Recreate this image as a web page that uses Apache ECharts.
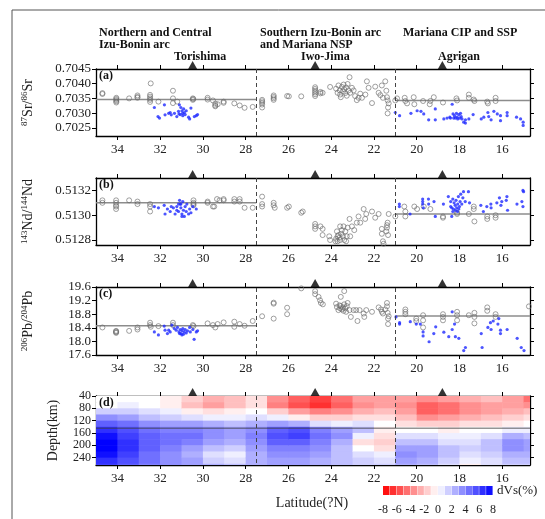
<!DOCTYPE html>
<html>
<head>
<meta charset="utf-8">
<script src="https://cdn.jsdelivr.net/npm/echarts@6.0.0/dist/echarts.min.js"></script>
<style>
  html, body { margin: 0; padding: 0; background: #fff; }
  #chart { width: 545px; height: 519px; }
</style>
</head>
<body>
<div id="chart"></div>
<script>
// ---- data ----
const LAT_MIN = 14.7, LAT_MAX = 35;
const latTicks = [16, 18, 20, 22, 24, 26, 28, 30, 32, 34];
const sectionBounds = [27.5, 21];
const volcanoLat = [30.48, 24.75, 18.8];
const volcanoNames = ['Torishima', 'Iwo-Jima', 'Agrigan'];

// (a) 87Sr/86Sr
const srTicks = [0.7025, 0.7030, 0.7035, 0.7040, 0.7045];
const srRef = [0.70346, 0.70343];
const srOther = [
  [34.7,0.70365],[34.7,0.70368],[34.05,0.70352],[34.05,0.70348],[34.05,0.70344],[34.05,0.70340],[34.05,0.70336],
  [33.45,0.70350],[33.06,0.70360],[33.06,0.70355],[33.06,0.70352],
  [32.47,0.70362],[32.47,0.70356],[32.47,0.70350],[32.47,0.70345],[32.47,0.70338],[32.44,0.70401],[32.08,0.70339],
  [31.4,0.70376],[31.4,0.70350],[31.4,0.70334],[31.2,0.70339],
  [30.47,0.70350],[30.47,0.70345],[30.45,0.70348],[29.78,0.70352],[29.78,0.70346],
  [29.53,0.70343],[29.42,0.70332],[29.42,0.70326],[29.42,0.70323],[29.31,0.70330],[29.03,0.70339],[29.03,0.70335],
  [28.53,0.70333],[28.28,0.70326],[28.05,0.70318],[27.67,0.70321],
  [27.23,0.70345],[27.23,0.70340],[27.23,0.70335],[27.23,0.70329],[27.23,0.70319],
  [26.69,0.70360],[26.69,0.70355],[26.69,0.70350],[26.69,0.70345],[26.06,0.70358],[25.98,0.70357],[25.4,0.70357],
  [24.75,0.70388],[24.75,0.70382],[24.75,0.70376],[24.75,0.70370],[24.75,0.70364],[24.75,0.70358],
  [24.5,0.70372],[24.5,0.70367],[24.4,0.70369],[24.05,0.70389],
  [23.77,0.70383],[23.7,0.70369],[23.66,0.70394],[23.6,0.70377],[23.58,0.70363],[23.55,0.70354],[23.5,0.70389],
  [23.45,0.70374],[23.42,0.70397],[23.39,0.70381],[23.34,0.70368],[23.3,0.70387],[23.27,0.70359],[23.23,0.70399],
  [23.19,0.70377],[23.14,0.70422],[23.11,0.70369],[23.03,0.70386],[22.95,0.70377],[22.88,0.70358],[22.8,0.70344],
  [22.72,0.70352],[22.64,0.70366],[22.56,0.70352],[22.4,0.70363],[22.33,0.70408],[22.25,0.70386],[22.09,0.70334],
  [21.94,0.70390],[21.78,0.70369],[21.7,0.70361],[21.63,0.70394],[21.58,0.70352],[21.47,0.70408],[21.42,0.70376],
  [21.39,0.70354],[21.36,0.70343],[21.34,0.70319],[21.36,0.70299],[21.31,0.70333],
  [21.0,0.70343],[20.92,0.70350],[20.56,0.70352],[20.53,0.70341],[20.45,0.70333],[20.14,0.70354],[20.11,0.70330],
  [19.7,0.70341],[19.36,0.70341],[19.39,0.70330],[19.2,0.70354],[18.77,0.70336],[18.14,0.70350],[18.11,0.70343],
  [17.56,0.70363],[17.56,0.70352],[17.33,0.70346],[17.3,0.70341],[16.7,0.70339],[16.67,0.70333],[16.31,0.70352],[16.31,0.70341]
];
const srBlue = [
  [32.27,0.70319],[32.1,0.70288],[32.03,0.70283],[31.8,0.70328],[31.77,0.70294],[31.6,0.70299],[31.53,0.70302],
  [31.48,0.70294],[31.33,0.70299],[31.22,0.70288],[31.14,0.70306],[31.1,0.70328],[31.03,0.70319],[30.98,0.70308],
  [30.95,0.70299],[30.9,0.70314],[30.87,0.70302],[30.83,0.70295],[30.78,0.70308],[31.06,0.70295],[30.67,0.70286],
  [30.62,0.70280],[30.56,0.70317],[30.4,0.70288],[30.31,0.70291],[30.25,0.70295],[30.94,0.70291],[31.12,0.70297],
  [21.0,0.70302],[20.8,0.70291],[20.27,0.70299],[19.98,0.70308],[19.8,0.70306],[19.67,0.70297],[19.44,0.70277],
  [19.13,0.70314],[19.13,0.70277],[18.73,0.70280],[18.34,0.70330],[18.45,0.70286],[18.3,0.70297],[18.23,0.70291],
  [18.14,0.70299],[18.11,0.70286],[18.03,0.70295],[17.98,0.70283],[17.92,0.70288],[17.88,0.70280],[17.8,0.70269],
  [17.72,0.70277],[18.42,0.70283],[18.27,0.70283],[18.19,0.70283],[18.08,0.70280],[17.95,0.70299],[17.72,0.70266],
  [17.56,0.70280],[17.36,0.70295],[16.98,0.70280],[16.86,0.70286],[16.63,0.70288],[16.52,0.70277],[16.39,0.70306],
  [16.23,0.70297],[16.08,0.70291],[16.08,0.70274],[15.77,0.70302],[15.77,0.70291],[15.33,0.70286],[15.14,0.70280],
  [15.02,0.70269],[15.02,0.70258],[16.67,0.70302],[18.58,0.70283]
];

// (b) 143Nd/144Nd
const ndTicks = [0.5128, 0.5130, 0.5132];
const ndRef = [0.51310, 0.51301];
const ndOther = [
  [34.7,0.51312],[34.7,0.51310],[34.06,0.51312],[34.06,0.51310],[34.06,0.51308],[34.06,0.51307],[34.06,0.51305],
  [33.45,0.51312],[33.06,0.51311],[33.06,0.51309],[32.47,0.51309],[32.47,0.51307],[32.47,0.51303],
  [30.44,0.51312],[30.44,0.51310],[30.44,0.51309],[30.44,0.51308],[29.78,0.51311],[29.78,0.51310],
  [29.53,0.51307],[29.47,0.51307],[29.34,0.51313],[29.22,0.51312],[29.03,0.51313],[29.03,0.51312],
  [28.53,0.51313],[28.53,0.51311],[28.28,0.51313],[28.28,0.51311],[28.05,0.51306],[27.67,0.51306],
  [27.23,0.51315],[27.23,0.51309],[27.23,0.51307],[26.69,0.51310],[26.69,0.51308],[26.64,0.51306],
  [26.06,0.51306],[25.98,0.51307],[25.4,0.51302],[25.33,0.51303],
  [24.75,0.51293],[24.75,0.51291],[24.75,0.51289],[24.5,0.51291],[24.4,0.51289],[24.4,0.51284],[24.09,0.51283],[24.05,0.51280],
  [23.77,0.51281],[23.73,0.51287],[23.7,0.51279],[23.66,0.51284],[23.61,0.51282],[23.58,0.51291],[23.58,0.51280],
  [23.53,0.51285],[23.5,0.51288],[23.45,0.51283],[23.42,0.51291],[23.39,0.51280],[23.34,0.51287],[23.3,0.51279],
  [23.27,0.51283],[23.23,0.51290],[23.14,0.51297],[23.11,0.51283],[23.03,0.51291],[22.92,0.51288],[22.8,0.51294],
  [22.72,0.51299],[22.64,0.51294],[22.48,0.51305],[22.41,0.51297],[22.36,0.51301],[22.09,0.51303],[21.94,0.51298],
  [21.78,0.51301],[21.63,0.51289],[21.63,0.51285],[21.58,0.51279],[21.55,0.51277],[21.42,0.51287],[21.39,0.51292],
  [21.36,0.51294],[21.34,0.51284],[21.31,0.51301],[21.39,0.51290],[23.8,0.51279],[23.7,0.51283],
  [21.0,0.51299],[20.58,0.51307],[20.53,0.51303],[20.53,0.51299],[20.11,0.51307],[19.98,0.51305],[19.67,0.51307],
  [19.36,0.51305],[18.77,0.51299],[18.77,0.51298],[18.11,0.51301],[18.11,0.51302],[17.56,0.51301],[17.33,0.51305],
  [17.33,0.51307],[17.3,0.51295],[16.7,0.51299],[16.7,0.51297],[16.31,0.51300],[16.31,0.51298]
];
const ndBlue = [
  [32.27,0.51307],[32.08,0.51306],[31.81,0.51308],[31.77,0.51301],[31.66,0.51305],[31.53,0.51303],[31.48,0.51307],
  [31.38,0.51306],[31.3,0.51301],[31.22,0.51304],[31.14,0.51303],[31.09,0.51312],[31.06,0.51309],[31.03,0.51306],
  [30.98,0.51301],[30.94,0.51311],[30.91,0.51304],[30.87,0.51299],[30.83,0.51307],[30.78,0.51303],[30.75,0.51309],
  [30.67,0.51301],[30.62,0.51305],[30.56,0.51302],[30.47,0.51307],[30.31,0.51305],[31.03,0.51309],[31.14,0.51309],
  [30.98,0.51299],[31.22,0.51307],
  [20.81,0.51309],[20.81,0.51307],[20.31,0.51301],[19.72,0.51313],[19.72,0.51311],[19.72,0.51309],[19.69,0.51306],
  [19.45,0.51313],[19.44,0.51309],[19.19,0.51311],[19.13,0.51299],[18.75,0.51309],[18.52,0.51315],[18.41,0.51311],
  [18.36,0.51306],[18.36,0.51299],[18.31,0.51313],[18.25,0.51310],[18.2,0.51308],[18.16,0.51312],[18.13,0.51306],
  [18.08,0.51309],[18.05,0.51315],[18.0,0.51307],[17.97,0.51311],[17.94,0.51317],[17.89,0.51309],[17.84,0.51314],
  [18.28,0.51305],[18.19,0.51304],[18.09,0.51303],[18.03,0.51305],[17.81,0.51319],[17.73,0.51311],[17.58,0.51319],
  [17.53,0.51310],[18.41,0.51307],[18.31,0.51303],[17.0,0.51308],[16.88,0.51303],[16.72,0.51307],[16.53,0.51309],
  [16.52,0.51306],[16.25,0.51310],[16.13,0.51314],[16.06,0.51308],[16.02,0.51311],[15.81,0.51312],[15.78,0.51315],
  [15.75,0.51304],[15.31,0.51309],[15.08,0.51311],[15.03,0.51320],[15.0,0.51319],[15.03,0.51307]
];

// (c) 206Pb/204Pb
const pbTicks = [17.6, 18.0, 18.4, 18.8, 19.2, 19.6];
const pbRef = [18.46, 18.75];
const pbOther = [
  [34.7,18.41],[34.06,18.31],[34.06,18.29],[34.06,18.27],[34.06,18.25],[33.45,18.31],[33.06,18.41],[33.06,18.35],
  [32.47,18.55],[32.47,18.48],[32.44,18.43],[32.08,18.45],[31.4,18.55],[31.4,18.48],[30.47,18.48],[30.44,18.45],
  [29.78,18.53],[29.53,18.48],[29.42,18.41],[29.31,18.51],[29.03,18.56],[28.53,18.58],[28.53,18.43],[28.28,18.51],
  [28.05,18.46],[27.67,18.6],[27.23,18.74],[26.69,19.14],[26.69,19.11],[26.69,18.67],[26.06,18.99],[26.06,18.8],
  [25.4,19.56],[24.75,19.48],[24.75,19.39],[24.59,19.31],[24.52,19.21],[24.48,19.13],[24.39,19.09],
  [23.55,19.31],[23.39,19.48],[23.77,19.11],[23.73,19.01],[23.66,18.92],[23.61,19.06],[23.58,18.97],[23.55,19.04],
  [23.5,18.94],[23.45,19.0],[23.42,18.9],[23.39,19.09],[23.34,18.97],[23.3,18.87],[23.27,19.04],[23.23,19.13],
  [23.14,18.92],[23.08,18.72],[22.95,18.92],[22.83,18.92],[22.77,18.6],[22.67,18.92],[22.48,18.82],[22.45,18.72],
  [22.36,18.92],[22.09,18.87],[21.78,19.0],[21.67,18.94],[21.63,18.87],[21.58,18.82],[21.47,18.94],[21.39,19.13],
  [21.39,19.03],[21.36,18.84],[21.34,18.67],[21.34,18.51],[21.31,18.74],
  [20.53,18.94],[20.53,18.87],[20.53,18.8],[20.02,18.67],[20.02,18.6],[19.7,18.77],[19.7,18.62],[19.7,18.41],
  [18.77,18.8],[18.77,18.72],[18.77,18.62],[18.11,18.87],[18.11,18.77],[18.11,18.62],[17.56,18.77],[17.3,18.84],
  [17.3,18.72],[17.3,18.53],[16.7,19.0],[16.7,18.9],[16.31,18.8],[16.31,18.72],[14.75,19.03]
];
const pbBlue = [
  [32.27,18.28],[32.08,18.19],[31.81,18.45],[31.77,18.33],[31.66,18.23],[31.6,18.33],[31.53,18.28],[31.45,18.48],
  [31.34,18.38],[31.25,18.33],[31.19,18.41],[31.12,18.28],[31.06,18.35],[31.03,18.23],[30.98,18.31],[30.94,18.38],
  [30.91,18.21],[30.88,18.28],[30.83,18.35],[30.78,18.25],[30.72,18.31],[30.62,18.41],[30.59,18.28],[30.47,18.35],
  [30.41,18.06],[30.31,18.28],[30.25,18.31],[31.09,18.23],[30.98,18.19],
  [20.97,18.72],[20.8,18.55],[20.8,18.51],[20.3,18.58],[20.02,18.51],[19.83,18.51],[19.7,18.28],[19.7,18.16],
  [19.42,17.99],[19.2,18.23],[19.11,18.43],[18.73,18.27],[18.5,18.14],[18.34,18.87],[18.34,18.35],[18.23,18.51],
  [18.19,18.14],[18.03,18.09],[17.8,17.73],[17.72,17.82],[16.98,18.23],[16.94,17.82],[16.67,18.41],[16.55,18.55],
  [16.52,18.35],[16.42,18.6],[16.2,18.51],[16.16,18.67],[16.08,18.33],[16.08,18.23],[15.77,18.35],[15.3,18.09],
  [15.11,17.82],[14.98,17.73]
];

// (d) dVs (%) section: one column per latitude cell, values from top (50 km) to bottom (270 km)
const depthTicks = [40, 80, 120, 160, 200, 240];
const depthRef = 145;
const depthRows = [50, 70, 90, 110, 130, 150, 170, 190, 210, 230, 250, 270];
const latCols = [34.5, 33.5, 32.5, 31.5, 30.5, 29.5, 28.5, 27.5, 26.5, 25.5, 24.5, 23.5, 22.5, 21.5, 20.5, 19.5, 18.5, 17.5, 16.5, 15.5, 14.5];
const dvsCols = [
  [0, 0, 1.5, 3.5, 5, 6.5, 7.5, 8, 8, 7.5, 6.5, 6],
  [0, 0.5, 1.5, 3, 4.5, 5.5, 6, 6.5, 6.5, 6, 5.5, 5],
  [0, 0, 1, 2, 3.5, 4.5, 5, 5, 5, 4.5, 4.5, 4],
  [-0.5, -0.5, 0.5, 1.5, 3, 4, 4.5, 4.5, 4, 3.5, 3.5, 3.5],
  [-1.5, -2, -0.5, 1, 3, 4, 4.5, 4, 3, 2.5, 3, 3],
  [-2.5, -3, -1, 0.5, 2.5, 3.5, 3.5, 3, 2, 1, 1.5, 2.5],
  [-2, -2, -0.5, 0.5, 2, 3, 3, 2.5, 1.5, 0.5, 1, 2],
  [-1, -1, 0, 1, 2.5, 3.5, 4, 3.5, 3, 2.5, 2.5, 2.5],
  [-3.5, -4, -1.5, 0.5, 3, 5, 5.5, 5, 4, 3.5, 3, 3],
  [-5, -5.5, -3, -0.5, 2.5, 5.5, 6, 5, 4, 3.5, 3, 3],
  [-6, -6.5, -4, -1.5, 1, 4, 4.5, 4, 3.5, 3, 2.5, 2.5],
  [-4.5, -5, -3.5, -1.5, 0.5, 3, 3.5, 2.5, 2, 2, 2, 2],
  [-3, -3.5, -2.5, -1, 1, 2, 0.5, -1, 0, 1, 1.5, 1.5],
  [-3, -3, -2, -1, 0, -0.5, -1, -1.5, -1, 0.5, 1, 1.5],
  [-3, -3.5, -3, -2, -1, 0, 1, 2, 3, 3.5, 3, 2.5],
  [-3.5, -5, -5, -3.5, -1.5, 0, 1, 2, 3, 3, 2.5, 2],
  [-3, -4.5, -4.5, -3, -1.5, -0.5, 0.5, 1, 2, 2, 1.5, 1],
  [-2.5, -3.5, -3.5, -2.5, -1, 0, 0.5, 1, 1.5, 1, 0.5, -0.5],
  [-2, -3, -3, -2, -1, 0, 1, 2, 2, 1.5, 1, 1],
  [-3, -3, -2.5, -1.5, -0.5, 0.5, 2.5, 3.5, 3.5, 2.5, 2, 1.5],
  [-4.5, -3.5, -2, -1, 0, 0.5, 2, 3, 3, 2.5, 2, 1.5]
];
const cbarBins = [-7.5, -6.5, -5.5, -4.5, -3.5, -2.5, -1.5, -0.5, 0.5, 1.5, 2.5, 3.5, 4.5, 5.5, 6.5, 7.5];

// ---- chart ----
const SERIF = '"Liberation Serif", "DejaVu Serif", serif';
const chart = echarts.init(document.getElementById('chart'), null, { renderer: 'canvas' });

const panels = [
  { top: 69, height: 67, min: 0.70222, max: 0.7045, ticks: srTicks, fmt: v => v.toFixed(4), fs: 13,
    name: '{s|87}{n|Sr/}{s|86}{n|Sr}', other: srOther, blue: srBlue, ref: srRef, letter: '(a)' },
  { top: 178, height: 67, min: 0.51276, max: 0.51330, ticks: ndTicks, fmt: v => v.toFixed(4), fs: 13,
    name: '{s|143}{n|Nd/}{s|144}{n|Nd}', other: ndOther, blue: ndBlue, ref: ndRef, letter: '(b)' },
  { top: 287, height: 68, min: 17.6, max: 19.6, ticks: pbTicks, fmt: v => v.toFixed(1), fs: 13,
    name: '{s|206}{n|Pb/}{s|204}{n|Pb}', other: pbOther, blue: pbBlue, ref: pbRef, letter: '(c)' },
  { top: 396, height: 69, min: 40, max: 264, ticks: depthTicks, fmt: v => String(v), fs: 12,
    name: '{n|Depth(km)}', letter: '(d)', inverse: true }
];

const frameLine = { show: true, onZero: false, lineStyle: { color: '#000', width: 1.3 } };
const tickStyle = { color: '#000', width: 1 };
const labelStyle = { fontFamily: SERIF, fontSize: 13, color: '#222', hideOverlap: false };

const grid = [], xAxis = [], yAxis = [], series = [];

panels.forEach((p, i) => {
  grid.push({ left: 96, top: p.top, width: 434, height: p.height, outerBoundsMode: 'none' });
  const xb = { gridIndex: i, type: 'value', min: LAT_MIN, max: LAT_MAX, inverse: true,
    splitLine: { show: false }, axisLine: frameLine };
  xAxis.push({ ...xb, position: 'bottom',
    axisTick: { show: true, inside: false, length: 4, customValues: latTicks, lineStyle: tickStyle },
    axisLabel: { ...labelStyle, show: true, customValues: latTicks, margin: 7 } });
  xAxis.push({ ...xb, position: 'top',
    axisTick: { show: true, inside: false, length: 4, customValues: latTicks, lineStyle: tickStyle },
    axisLabel: { show: false } });
  const yb = { gridIndex: i, type: 'value', min: p.min, max: p.max, inverse: !!p.inverse,
    splitLine: { show: false }, axisLine: frameLine };
  yAxis.push({ ...yb, position: 'left',
    name: p.name, nameLocation: 'middle', nameRotate: 90, nameGap: i === 3 ? 36 : 60,
    nameTextStyle: { rich: {
      n: { fontFamily: SERIF, fontSize: 14, color: '#222' },
      s: { fontFamily: SERIF, fontSize: 9, color: '#222', verticalAlign: 'top', padding: [0, 0, 7, 0] } } },
    axisTick: { show: true, inside: false, length: 4, customValues: p.ticks, lineStyle: tickStyle },
    axisLabel: { ...labelStyle, fontSize: p.fs, customValues: p.ticks, margin: 5, formatter: p.fmt,
      showMinLabel: true, showMaxLabel: true } });
  yAxis.push({ ...yb, position: 'right',
    axisTick: { show: true, inside: false, length: 4, customValues: p.ticks, lineStyle: tickStyle },
    axisLabel: { show: false } });

  const ax = { xAxisIndex: 2 * i, yAxisIndex: 2 * i };
  const dashed = {
    silent: true, symbol: 'none', label: { show: false },
    lineStyle: { color: '#444', type: [4, 3], width: 1 },
    data: sectionBounds.map(v => ({ xAxis: v }))
  };

  if (p.other) {
    series.push({ ...ax, type: 'scatter', name: 'other', data: p.other, symbol: 'circle', symbolSize: 5,
      itemStyle: { color: 'rgba(0,0,0,0)', borderColor: '#6a6a6a', borderWidth: 0.8 }, markLine: dashed, z: 3 });
    series.push({ ...ax, type: 'scatter', name: 'blue', data: p.blue, symbol: 'circle', symbolSize: 3.2,
      itemStyle: { color: '#1f2bff' }, z: 4 });
    series.push({ ...ax, type: 'line', data: [[LAT_MAX, p.ref[0]], [sectionBounds[0], p.ref[0]]],
      symbol: 'none', lineStyle: { color: '#8c8c8c', width: 1.5 }, z: 2 });
    series.push({ ...ax, type: 'line', data: [[sectionBounds[1], p.ref[1]], [LAT_MIN, p.ref[1]]],
      symbol: 'none', lineStyle: { color: '#8c8c8c', width: 1.5 }, z: 2 });
  } else {
    // dVs section as coloured cells
    const heatData = [];
    latCols.forEach((lat, c) => depthRows.forEach((d, r) => heatData.push([lat, d, dvsCols[c][r]])));
    series.push({ ...ax, type: 'custom', name: 'dvs', data: heatData, encode: { x: 0, y: 1 },
      renderItem: (params, api) => {
        const lat = api.value(0), d = api.value(1);
        const a = api.coord([lat + 0.5, d - 10]);
        const b = api.coord([lat - 0.5, d + 10]);
        const cs = params.coordSys;
        const rect = echarts.graphic.clipRectByRect(
          { x: Math.min(a[0], b[0]), y: Math.min(a[1], b[1]),
            width: Math.abs(b[0] - a[0]) + 0.6, height: Math.abs(b[1] - a[1]) + 0.6 },
          { x: cs.x, y: cs.y, width: cs.width, height: cs.height });
        return rect && { type: 'rect', shape: rect, style: { fill: api.visual('color') } };
      },
      markLine: dashed, z: 1 });
    series.push({ ...ax, type: 'line', data: [[LAT_MAX, depthRef], [LAT_MIN, depthRef]],
      symbol: 'none', lineStyle: { color: 'rgba(60,60,60,0.55)', width: 1.5 }, z: 3 });
  }

  // volcano triangles sitting on the top frame
  series.push({ ...ax, type: 'scatter', data: volcanoLat.map(l => [l, p.inverse ? p.min : p.max]),
    symbol: 'triangle', symbolSize: [9, 8], symbolOffset: [0, -4], clip: false,
    itemStyle: { color: '#000' }, z: 10 });
});

// colour bar
grid.push({ left: 383, top: 486, width: 110, height: 9, outerBoundsMode: 'none' });
xAxis.push({ gridIndex: 4, type: 'value', min: -8, max: 8, interval: 2, splitLine: { show: false },
  axisLine: { show: false }, axisTick: { show: false },
  axisLabel: { fontFamily: SERIF, fontSize: 12, color: '#222', margin: 9, hideOverlap: false } });
yAxis.push({ gridIndex: 4, type: 'value', min: 0, max: 1, show: false });
series.push({ type: 'custom', xAxisIndex: 8, yAxisIndex: 8, name: 'cbar',
  data: cbarBins.map(v => [v, 0, v]), encode: { x: 0, y: 1 },
  renderItem: (params, api) => {
    const v = api.value(0);
    const a = api.coord([v - 0.5, 1]);
    const b = api.coord([v + 0.5, 0]);
    return { type: 'rect', shape: { x: a[0], y: a[1], width: b[0] - a[0] - 0.4, height: b[1] - a[1] },
      style: { fill: api.visual('color') } };
  } });

const heatIdx = series.findIndex(s => s.name === 'dvs');
const cbarIdx = series.findIndex(s => s.name === 'cbar');

const bold = { fontFamily: SERIF, fontSize: 12, fontWeight: 'bold', fill: '#111' };
const graphic = [
  { type: 'line', shape: { x1: 12, y1: 10, x2: 545, y2: 10 }, style: { stroke: '#555', lineWidth: 1 } },
  { type: 'line', shape: { x1: 12, y1: 10, x2: 12, y2: 519 }, style: { stroke: '#555', lineWidth: 1 } },
  { type: 'text', style: { ...bold, x: 99, y: 27, text: 'Northern and Central\nIzu-Bonin arc', lineHeight: 12 } },
  { type: 'text', style: { ...bold, x: 260, y: 27, text: 'Southern Izu-Bonin arc\nand Mariana NSP', lineHeight: 12 } },
  { type: 'text', style: { ...bold, x: 403, y: 27, text: 'Mariana CIP and SSP' } },
  { type: 'text', style: { ...bold, x: 174, y: 51, text: volcanoNames[0] } },
  { type: 'text', style: { ...bold, x: 301, y: 51, text: volcanoNames[1] } },
  { type: 'text', style: { ...bold, x: 438, y: 51, text: volcanoNames[2] } },
  { type: 'text', style: { fontFamily: SERIF, fontSize: 14, fill: '#222', x: 312, y: 503,
      text: 'Latitude(?N)', align: 'center', verticalAlign: 'middle' } },
  { type: 'text', style: { fontFamily: SERIF, fontSize: 13, fill: '#222', x: 497, y: 491,
      text: 'dVs(%)', verticalAlign: 'middle' } }
];
panels.forEach(p => graphic.push({ type: 'text', z: 100,
  style: { fontFamily: SERIF, fontSize: 12, fontWeight: 'bold', fill: '#111', x: 99, y: p.top + 1, text: p.letter } }));

chart.setOption({
  animation: false,
  backgroundColor: '#fff',
  grid, xAxis, yAxis, series, graphic,
  visualMap: { type: 'continuous', show: false, min: -8, max: 8, dimension: 2,
    seriesIndex: [heatIdx, cbarIdx], inRange: { color: ['#ff0000', '#ffffff', '#0000ff'] } }
});
</script>
</body>
</html>
